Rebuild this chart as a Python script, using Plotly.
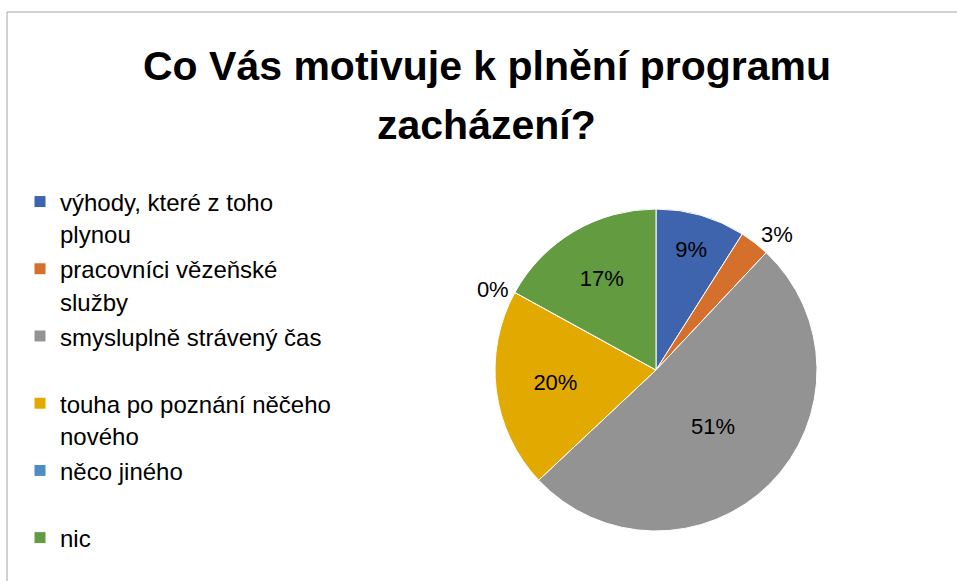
import plotly.graph_objects as go

categories = [
    "výhody, které z toho<br>plynou",
    "pracovníci vězeňské<br>služby",
    "smysluplně strávený čas<br> ",
    "touha po poznání něčeho<br>nového",
    "něco jiného<br> ",
    "nic",
]
values = [9, 3, 51, 20, 0, 17]
colors = ["#3E64AD", "#D4702C", "#939393", "#E2AA00", "#4F8CC5", "#629B40"]
text_positions = ["inside", "outside", "inside", "inside", "outside", "inside"]

W, H = 957, 581
FONT = "Liberation Sans, Arial, sans-serif"

legend_labels = [f'<span style="font-size:24px">{c}</span>' for c in categories]

fig = go.Figure(
    go.Pie(
        labels=legend_labels,
        values=values,
        sort=False,
        direction="clockwise",
        rotation=0,
        marker=dict(colors=colors, line=dict(color="white", width=1)),
        texttemplate="%{percent:.0%}",
        textposition=text_positions,
        insidetextorientation="horizontal",
        textfont=dict(family=FONT, size=22, color="black"),
        domain=dict(x=[495 / W, 817 / W], y=[1 - 531 / H, 1 - 209 / H]),
        showlegend=True,
        hoverinfo="percent",
    )
)

fig.add_annotation(
    text="<b>Co Vás motivuje k plnění programu</b>",
    x=487 / W, y=1 - 66 / H, xref="paper", yref="paper",
    xanchor="center", yanchor="middle", showarrow=False,
    font=dict(family=FONT, size=41, color="black"),
)
fig.add_annotation(
    text="<b>zacházení?</b>",
    x=487 / W, y=1 - 125 / H, xref="paper", yref="paper",
    xanchor="center", yanchor="middle", showarrow=False,
    font=dict(family=FONT, size=41, color="black"),
)

fig.add_shape(
    type="rect", xref="paper", yref="paper",
    x0=7 / W, x1=1.02, y0=-0.02, y1=1 - 12 / H,
    line=dict(color="#A6A6A6", width=1), fillcolor="rgba(0,0,0,0)",
)

fig.update_layout(
    width=W, height=H,
    margin=dict(l=0, r=0, t=0, b=0),
    paper_bgcolor="white", plot_bgcolor="white",
    font=dict(family=FONT, color="black"),
    legend=dict(
        x=20 / W, y=1 - 179 / H, xanchor="left", yanchor="top",
        orientation="v", valign="top",
        font=dict(family=FONT, size=24.7, color="black"),
        bgcolor="rgba(0,0,0,0)",
    ),
)

fig.write_html(
    "out.html",
    config={"displayModeBar": False},
    post_script="document.body.style.margin='0';document.body.style.overflow='hidden';",
)
